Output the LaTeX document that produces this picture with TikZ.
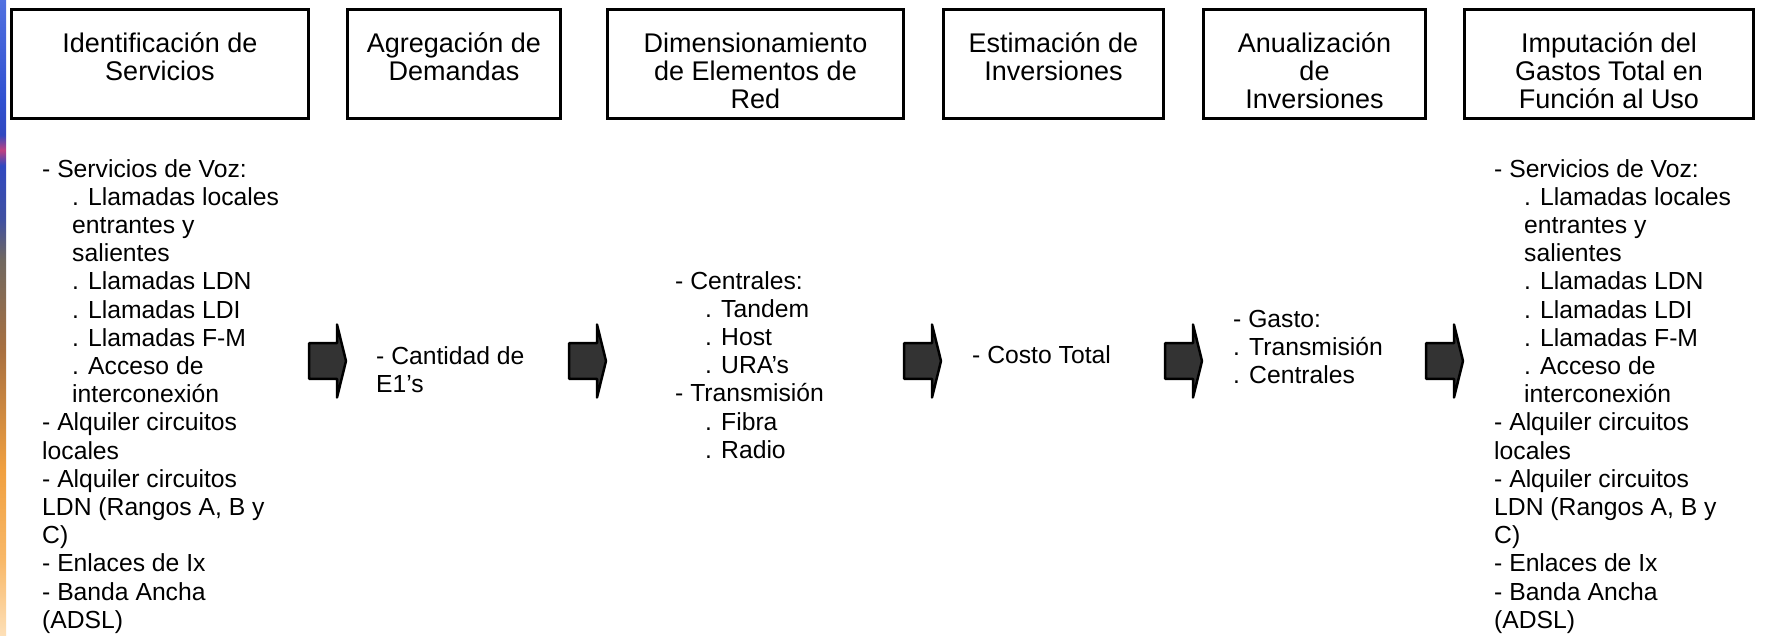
\documentclass[tikz,border=0pt]{standalone}
\usepackage{fontspec}
\setmainfont{Liberation Sans}
\definecolor{sA}{HTML}{FDE0B8}
\definecolor{sB}{HTML}{F8B868}
\definecolor{sC}{HTML}{F0A040}
\definecolor{sD}{HTML}{A87040}
\definecolor{sE}{HTML}{706860}
\definecolor{sF}{HTML}{4050A0}
\definecolor{sG}{HTML}{3048C0}
\definecolor{sH}{HTML}{C04080}
\definecolor{sI}{HTML}{3050D0}
\definecolor{sJ}{HTML}{5070E0}
\definecolor{arrgray}{HTML}{333333}
\pgfdeclareverticalshading{stripshade}{100bp}{color(0bp)=(sA); color(25bp)=(sA); color(31bp)=(sB); color(38.1bp)=(sC); color(47.5bp)=(sD); color(54.6bp)=(sE); color(57.7bp)=(sF); color(62bp)=(sG); color(63.2bp)=(sH); color(64.4bp)=(sG); color(67.1bp)=(sI); color(75bp)=(sJ); color(100bp)=(sJ)}
\newcommand{\ind}{\hspace*{30pt}}
\begin{document}
\begin{tikzpicture}[x=1pt,y=-1pt,
  box/.style={draw=black, line width=3pt, inner sep=0pt},
  title/.style={align=center, inner sep=0pt, anchor=base, font=\fontsize{27}{28}\selectfont},
  listtext/.style={align=left, inner sep=0pt, anchor=base west, font=\fontsize{24.7}{28.2}\selectfont},
  blockarrow/.style={draw=black, fill=arrgray, line width=2.5pt, line join=round}]
\useasboundingbox (0,0) rectangle (1765,636);
\fill[white] (0,0) rectangle (1765,636);
\shade[shading=stripshade] (0,0) rectangle (6,636);
% boxes
\node[box, minimum width=297pt, minimum height=109pt] (b1) at (160,64) {};
\node[box, minimum width=213pt, minimum height=109pt] (b2) at (454,64) {};
\node[box, minimum width=296pt, minimum height=109pt] (b3) at (755.5,64) {};
\node[box, minimum width=220pt, minimum height=109pt] (b4) at (1053.5,64) {};
\node[box, minimum width=222pt, minimum height=109pt] (b5) at (1314.5,64) {};
\node[box, minimum width=289pt, minimum height=109pt] (b6) at (1609,64) {};
% titles (anchor base = last line)
\node[title] (t1) at (160,81) {Identificación de\\Servicios};
\node[title] (t2) at (454,81) {Agregación de\\Demandas};
\node[title] (t3) at (755.5,109) {Dimensionamiento\\de Elementos de\\Red};
\node[title] (t4) at (1053.5,81) {Estimación de\\Inversiones};
\node[title] (t5) at (1314.5,109) {Anualización\\de\\Inversiones};
\node[title] (t6) at (1609,109) {Imputación del\\Gastos Total en\\Función al Uso};
% block arrows
\foreach \x in {308,568,903,1164,1425}{
  \draw[blockarrow] (\x+1.2,343.2) -- (\x+29,343.2) -- (\x+29,324.5) -- (\x+38,361) -- (\x+29,397.5) -- (\x+29,378.8) -- (\x+1.2,378.8) -- cycle;
}
% lists (anchor base = last line)
\node[listtext] (l1) at (42,628.2) {- Servicios de Voz:\\\ind. Llamadas locales\\\ind entrantes y\\\ind salientes\\\ind. Llamadas LDN\\\ind. Llamadas LDI\\\ind. Llamadas F-M\\\ind. Acceso de\\\ind interconexión\\- Alquiler circuitos\\locales\\- Alquiler circuitos\\LDN (Rangos A, B y\\C)\\- Enlaces de Ix\\- Banda Ancha\\(ADSL)};
\node[listtext] (l2) at (376,392.2) {- Cantidad de\\E1’s};
\node[listtext] (l3) at (675,458.2) {- Centrales:\\\ind. Tandem\\\ind. Host\\\ind. URA’s\\- Transmisión\\\ind. Fibra\\\ind. Radio};
\node[listtext] (l4) at (972,363) {- Costo Total};
\node[listtext] (l5) at (1233,383.4) {- Gasto:\\. Transmisión\\. Centrales};
\node[listtext] (l6) at (1494,628.2) {- Servicios de Voz:\\\ind. Llamadas locales\\\ind entrantes y\\\ind salientes\\\ind. Llamadas LDN\\\ind. Llamadas LDI\\\ind. Llamadas F-M\\\ind. Acceso de\\\ind interconexión\\- Alquiler circuitos\\locales\\- Alquiler circuitos\\LDN (Rangos A, B y\\C)\\- Enlaces de Ix\\- Banda Ancha\\(ADSL)};
\end{tikzpicture}
\end{document}
